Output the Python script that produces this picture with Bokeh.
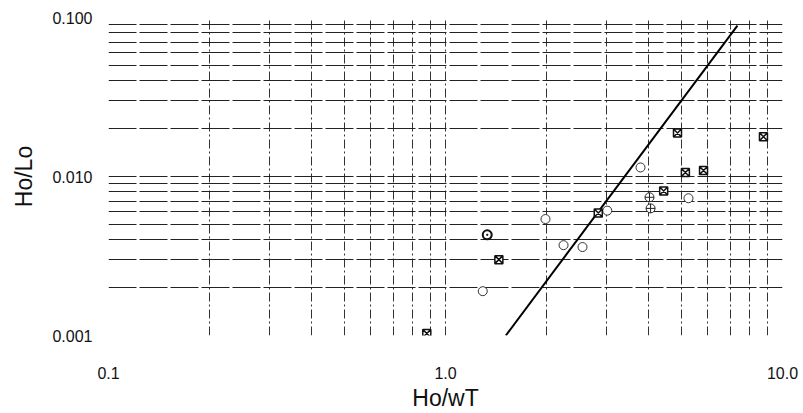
from bokeh.plotting import figure
from bokeh.models import FixedTicker
from bokeh.embed import file_html
from bokeh.resources import INLINE

# ---- data ----
circle_x = [1.29, 1.98, 2.24, 2.55, 3.02, 3.79, 5.26]
circle_y = [0.0019, 0.0054, 0.0037, 0.0036, 0.0061, 0.0114, 0.0073]
sqx_x = [0.88, 1.44, 2.84, 4.44, 4.88, 5.15, 5.83, 8.78]
sqx_y = [0.00103, 0.0030, 0.0059, 0.0081, 0.0188, 0.0106, 0.0109, 0.0178]
dot_x = [1.33]
dot_y = [0.0043]
cross_x = [4.03, 4.06]
cross_y = [0.0074, 0.0063]
fit_x = [1.51, 7.35]
fit_y = [0.001, 0.089]

x_major = [0.1, 1.0, 10.0]
x_labels = ["0.1", "1.0", "10.0"]
y_major = [0.001, 0.01, 0.1]
y_labels = ["0.001", "0.010", "0.100"]
x_minor = [m * d for d in (0.1, 1.0) for m in range(2, 10)]
y_minor = [m * d for d in (0.001, 0.01) for m in range(2, 10)]

FONT = "Liberation Sans"

p = figure(width=803, height=413, x_axis_type="log", y_axis_type="log",
           x_range=(0.1, 10), y_range=(0.001, 0.1),
           output_backend="svg", toolbar_location=None,
           min_border_left=108, min_border_right=21,
           min_border_top=17, min_border_bottom=76)
p.outline_line_color = None
p.background_fill_color = "white"

p.xaxis.ticker = FixedTicker(ticks=x_major, minor_ticks=x_minor)
p.yaxis.ticker = FixedTicker(ticks=y_major, minor_ticks=y_minor)
p.xaxis.major_label_overrides = dict(zip(x_major, x_labels))
p.yaxis.major_label_overrides = dict(zip(y_major, y_labels))

for ax in (p.xaxis[0], p.yaxis[0]):
    ax.axis_line_color = None
    ax.major_tick_line_color = None
    ax.minor_tick_line_color = None
    ax.major_label_text_font = FONT
    ax.major_label_text_font_size = "16px"
    ax.major_label_text_color = "#111111"
    ax.axis_label_text_font = FONT
    ax.axis_label_text_font_size = "23px"
    ax.axis_label_text_font_style = "normal"
    ax.axis_label_text_color = "#111111"

p.xaxis.axis_label = "Ho/wT"
p.yaxis.axis_label = "Ho/Lo"
p.xaxis.major_label_standoff = 25
p.yaxis.major_label_standoff = 10
p.xaxis.axis_label_standoff = 3
p.yaxis.axis_label_standoff = 12

p.xgrid.grid_line_color = "#333333"
p.xgrid.grid_line_dash = "9 3 2 3"
p.xgrid.grid_line_width = 1
p.xgrid.minor_grid_line_color = "#333333"
p.xgrid.minor_grid_line_dash = "9 3 2 3"
p.xgrid.minor_grid_line_width = 1
p.ygrid.grid_line_color = "#222222"
p.ygrid.grid_line_dash = "28 3"
p.ygrid.grid_line_width = 1
p.ygrid.minor_grid_line_color = "#222222"
p.ygrid.minor_grid_line_dash = "28 3"
p.ygrid.minor_grid_line_width = 1

p.line(fit_x, fit_y, line_color="black", line_width=2)

p.scatter(circle_x, circle_y, marker="circle", size=9,
          fill_color="white", line_color="#333333", line_width=1)
p.scatter(sqx_x, sqx_y, marker="square_x", size=8,
          fill_color="white", line_color="#111111", line_width=1.5)
p.scatter(dot_x, dot_y, marker="circle_dot", size=9,
          fill_color="white", line_color="#111111", line_width=2)
p.scatter(cross_x, cross_y, marker="circle_cross", size=9,
          fill_color="white", line_color="#222222", line_width=1)

open("out.html", "w").write(file_html(p, INLINE))
